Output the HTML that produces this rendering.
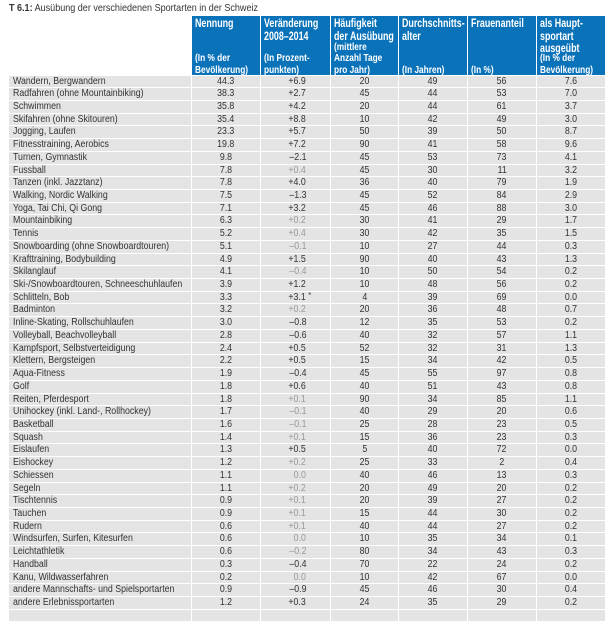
<!DOCTYPE html>
<html><head><meta charset="utf-8"><style>
*{margin:0;padding:0;box-sizing:border-box}
body{width:616px;height:613px;background:#fff;font-family:"Liberation Sans",sans-serif;color:#333;position:relative;overflow:hidden}
.title{position:absolute;left:9px;top:2px;font-size:10.5px;color:#333;transform:scaleX(.86);transform-origin:left;white-space:nowrap}
.hdr{position:absolute;top:16px;height:59px;background:#0a72b9;color:#fff;font-weight:bold}
.hdr .t{position:absolute;left:3px;top:1px;font-size:12px;line-height:12.5px;transform:scaleX(.74);transform-origin:left top;white-space:nowrap}
.hdr .s{position:absolute;left:3px;bottom:-1px;font-size:10px;line-height:11.5px;transform:scaleX(.83);transform-origin:left bottom;white-space:nowrap}
.row{position:absolute;left:9px;height:11.75px;display:flex;gap:1px}
.row div{background:#e4e4e4;height:100%;font-size:10px;line-height:12px;white-space:nowrap;text-align:center;position:relative}
.row div span{display:inline-block;transform:scaleX(.88)}
.row .n{width:182px;text-align:left;padding-left:4px}
.row .n span{transform-origin:left}
.c1{width:68px}.c2{width:69px;text-align:right!important;padding-right:24px}.c3{width:67px}.c4,.c5,.c6{width:68px}
.c2 span{transform-origin:right}
.g{color:#9a9a9a}
.ast{position:absolute;font-size:8px;top:-2px}
</style></head><body>
<div class="title"><b>T 6.1:</b> Ausübung der verschiedenen Sportarten in der Schweiz</div>
<div class="hdr" style="left:192px;width:68px"><div class="t">Nennung</div><div class="s">(In % der<br>Bevölkerung)</div></div>
<div class="hdr" style="left:261px;width:69px"><div class="t">Veränderung<br>2008–2014</div><div class="s">(In Prozent-<br>punkten)</div></div>
<div class="hdr" style="left:331px;width:67px"><div class="t">Häufigkeit<br>der Ausübung</div><div class="s">(mittlere<br>Anzahl Tage<br>pro Jahr)</div></div>
<div class="hdr" style="left:399px;width:68px"><div class="t">Durchschnitts-<br>alter</div><div class="s">(In Jahren)</div></div>
<div class="hdr" style="left:468px;width:68px"><div class="t">Frauenanteil</div><div class="s">(In %)</div></div>
<div class="hdr" style="left:537px;width:68px"><div class="t">als Haupt-<br>sportart<br>ausgeübt</div><div class="s">(In % der<br>Bevölkerung)</div></div>
<div id="rows"></div>
<script>
var d=[
["Wandern, Bergwandern","44.3","+6.9","20","49","56","7.6"],
["Radfahren (ohne Mountainbiking)","38.3","+2.7","45","44","53","7.0"],
["Schwimmen","35.8","+4.2","20","44","61","3.7"],
["Skifahren (ohne Skitouren)","35.4","+8.8","10","42","49","3.0"],
["Jogging, Laufen","23.3","+5.7","50","39","50","8.7"],
["Fitnesstraining, Aerobics","19.8","+7.2","90","41","58","9.6"],
["Turnen, Gymnastik","9.8","–2.1","45","53","73","4.1"],
["Fussball","7.8","g+0.4","45","30","11","3.2"],
["Tanzen (inkl. Jazztanz)","7.8","+4.0","36","40","79","1.9"],
["Walking, Nordic Walking","7.5","–1.3","45","52","84","2.9"],
["Yoga, Tai Chi, Qi Gong","7.1","+3.2","45","46","88","3.0"],
["Mountainbiking","6.3","g+0.2","30","41","29","1.7"],
["Tennis","5.2","g+0.4","30","42","35","1.5"],
["Snowboarding (ohne Snowboardtouren)","5.1","g–0.1","10","27","44","0.3"],
["Krafttraining, Bodybuilding","4.9","+1.5","90","40","43","1.3"],
["Skilanglauf","4.1","g–0.4","10","50","54","0.2"],
["Ski-/Snowboardtouren, Schneeschuhlaufen","3.9","+1.2","10","48","56","0.2"],
["Schlitteln, Bob","3.3","a+3.1","4","39","69","0.0"],
["Badminton","3.2","g+0.2","20","36","48","0.7"],
["Inline-Skating, Rollschuhlaufen","3.0","–0.8","12","35","53","0.2"],
["Volleyball, Beachvolleyball","2.8","–0.6","40","32","57","1.1"],
["Kampfsport, Selbstverteidigung","2.4","+0.5","52","32","31","1.3"],
["Klettern, Bergsteigen","2.2","+0.5","15","34","42","0.5"],
["Aqua-Fitness","1.9","–0.4","45","55","97","0.8"],
["Golf","1.8","+0.6","40","51","43","0.8"],
["Reiten, Pferdesport","1.8","g+0.1","90","34","85","1.1"],
["Unihockey (inkl. Land-, Rollhockey)","1.7","g–0.1","40","29","20","0.6"],
["Basketball","1.6","g–0.1","25","28","23","0.5"],
["Squash","1.4","g+0.1","15","36","23","0.3"],
["Eislaufen","1.3","+0.5","5","40","72","0.0"],
["Eishockey","1.2","g+0.2","25","33","2","0.4"],
["Schiessen","1.1","g0.0","40","46","13","0.3"],
["Segeln","1.1","g+0.2","20","49","20","0.2"],
["Tischtennis","0.9","g+0.1","20","39","27","0.2"],
["Tauchen","0.9","g+0.1","15","44","30","0.2"],
["Rudern","0.6","g+0.1","40","44","27","0.2"],
["Windsurfen, Surfen, Kitesurfen","0.6","g0.0","10","35","34","0.1"],
["Leichtathletik","0.6","g–0.2","80","34","43","0.3"],
["Handball","0.3","–0.4","70","22","24","0.2"],
["Kanu, Wildwasserfahren","0.2","g0.0","10","42","67","0.0"],
["andere Mannschafts- und Spielsportarten","0.9","–0.9","45","46","30","0.4"],
["andere Erlebnissportarten","1.2","+0.3","24","35","29","0.2"],
["","","","","","",""]];
var h="";
d.forEach(function(r,i){
 var top=75.5+i*12.72;
 var c=r[2],cls="",ast="";
 if(c[0]=="g"){cls=" g";c=c.slice(1)}
 if(c[0]=="a"){c=c.slice(1);ast='<span class="ast" style="right:19px">*</span>'}
 h+='<div class="row" style="top:'+top+'px"><div class="n"><span>'+r[0]+'</span></div><div class="c1"><span>'+r[1]+'</span></div><div class="c2'+cls+'"><span>'+c+'</span>'+ast+'</div><div class="c3"><span>'+r[3]+'</span></div><div class="c4"><span>'+r[4]+'</span></div><div class="c5"><span>'+r[5]+'</span></div><div class="c6"><span>'+r[6]+'</span></div></div>';
});
document.getElementById("rows").innerHTML=h;
</script>
</body></html>
